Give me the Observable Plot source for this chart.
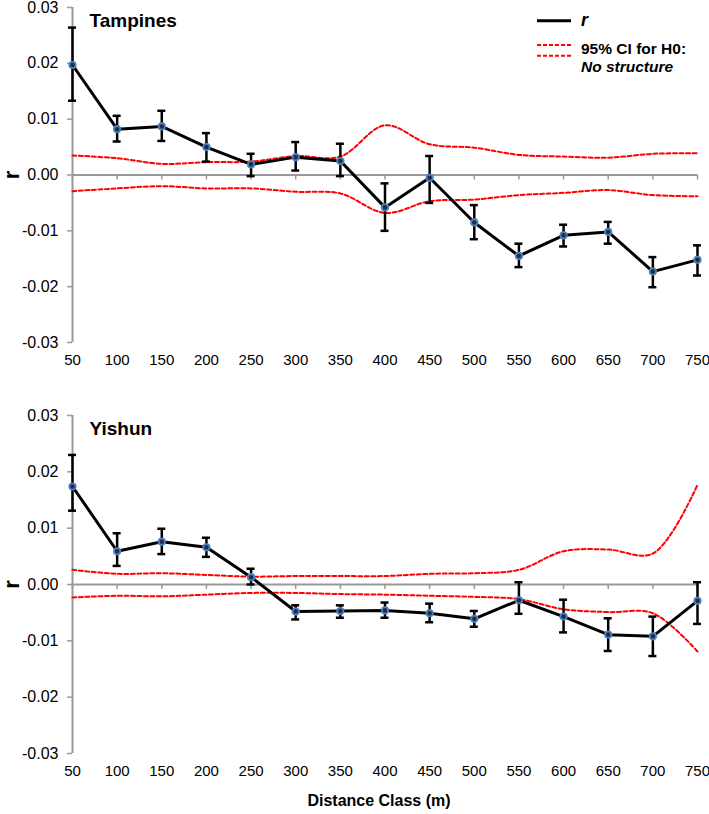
<!DOCTYPE html>
<html>
<head>
<meta charset="utf-8">
<script src="https://cdn.jsdelivr.net/npm/d3@7"></script>
<script src="https://cdn.jsdelivr.net/npm/@observablehq/plot@0.6"></script>
<style>
  html, body { margin: 0; padding: 0; background: #fff; }
  body { font-family: "Liberation Sans", Arial, sans-serif; }
  #wrap { position: relative; width: 709px; height: 814px; overflow: hidden; }
  #top, #bottom { position: absolute; left: 0; }
  #top { top: 0; }
  #bottom { top: 408px; }
  .lg { position: absolute; font-weight: bold; color: #000; white-space: nowrap; line-height: 1; }
</style>
</head>
<body>
<div id="wrap">
  <div id="top"></div>
  <div id="bottom"></div>
  <svg id="legsw" style="position:absolute;left:530px;top:10px" width="50" height="60">
    <line x1="7" x2="41" y1="10.7" y2="10.7" stroke="#000" stroke-width="3"/>
    <line x1="7" x2="41" y1="35" y2="35" stroke="#f00" stroke-width="2" stroke-dasharray="4,2"/>
    <line x1="7" x2="41" y1="45.7" y2="45.7" stroke="#f00" stroke-width="2" stroke-dasharray="4,2"/>
  </svg>
  <div class="lg" style="left:581px;top:11px;font-size:18px;font-style:italic">r</div>
  <div class="lg" style="left:581px;top:41px;font-size:15.5px">95% CI for H0:</div>
  <div class="lg" style="left:581px;top:59px;font-size:15.5px;font-style:italic">No structure</div>
</div>
<script>
// ---- data ----
const distance = [50, 100, 150, 200, 250, 300, 350, 400, 450, 500, 550, 600, 650, 700, 750];
const yTicks = [-0.03, -0.02, -0.01, 0, 0.01, 0.02, 0.03];

// Tampines
const tampR    = [0.0197, 0.0082, 0.0087, 0.0050, 0.0019, 0.0032, 0.0025, -0.0058, -0.0005, -0.0085, -0.0145, -0.0108, -0.0102, -0.0173, -0.0152];
const tampHi   = [0.0264, 0.0106, 0.0115, 0.0075, 0.0038, 0.0059, 0.0056, -0.0015, 0.0034, -0.0054, -0.0123, -0.0089, -0.0084, -0.0147, -0.0126];
const tampLo   = [0.0133, 0.0060, 0.0061, 0.0024, -0.0002, 0.0008, -0.0002, -0.0100, -0.0050, -0.0115, -0.0165, -0.0128, -0.0123, -0.0201, -0.0180];
const tampCIup = [0.0035, 0.0030, 0.0020, 0.0023, 0.0024, 0.0034, 0.0033, 0.0089, 0.0055, 0.0049, 0.0036, 0.0033, 0.0031, 0.0038, 0.0039];
const tampCIlo = [-0.0029, -0.0024, -0.0020, -0.0024, -0.0024, -0.0030, -0.0033, -0.0068, -0.0047, -0.0044, -0.0036, -0.0032, -0.0027, -0.0036, -0.0038];

// Yishun
const yisR    = [0.0174, 0.0059, 0.0076, 0.0066, 0.0013, -0.0048, -0.0047, -0.0046, -0.0051, -0.0061, -0.0028, -0.0057, -0.0089, -0.0092, -0.0029];
const yisHi   = [0.0230, 0.0091, 0.0099, 0.0083, 0.0028, -0.0037, -0.0037, -0.0032, -0.0034, -0.0047, 0.0004, -0.0027, -0.0060, -0.0057, 0.0004];
const yisLo   = [0.0131, 0.0033, 0.0054, 0.0049, 0.0000, -0.0062, -0.0059, -0.0059, -0.0067, -0.0075, -0.0052, -0.0085, -0.0118, -0.0127, -0.0070];
const yisCIup = [0.0026, 0.0019, 0.0020, 0.0017, 0.0014, 0.0015, 0.0015, 0.0015, 0.0019, 0.0020, 0.0026, 0.0059, 0.0062, 0.0055, 0.0177];
const yisCIlo = [-0.0023, -0.0020, -0.0021, -0.0018, -0.0015, -0.0015, -0.0017, -0.0018, -0.0020, -0.0022, -0.0026, -0.0044, -0.0049, -0.0051, -0.0119];

const FONT = '"Liberation Sans", Arial, sans-serif';

function panel(name, r, lo, hi, up, dn, height, marginBottom, xTitle) {
  const rows = distance.map((d, i) => ({d, r: r[i], lo: lo[i], hi: hi[i], up: up[i], dn: dn[i]}));
  const marks = [
    Plot.ruleX([distance[0]], {stroke: "#999", strokeWidth: 2}),
    Plot.ruleY([0], {stroke: "#999", strokeWidth: 2}),
    Plot.ruleX(distance, {x: d => d, y1: 0, y2: 0, insetBottom: -5, stroke: "#999", strokeWidth: 1.5}),
    Plot.axisY(yTicks, {anchor: "left", tickSize: 5, tickPadding: 9, stroke: "#999", strokeWidth: 1.5,
      tickFormat: d => d.toFixed(2), fontSize: 16, label: null}),
    Plot.axisX(distance, {anchor: "bottom", tickSize: 0, tickPadding: 12, fontSize: 15, label: null}),
    Plot.line(rows, {x: "d", y: "up", curve: "catmull-rom", stroke: "#ff0000", strokeWidth: 2, strokeDasharray: "4,2.5"}),
    Plot.line(rows, {x: "d", y: "dn", curve: "catmull-rom", stroke: "#ff0000", strokeWidth: 2, strokeDasharray: "4,2.5"}),
    Plot.ruleX(rows, {x: "d", y1: "lo", y2: "hi", stroke: "#000", strokeWidth: 2.5}),
    Plot.ruleY(rows, {y: "hi", x1: "d", x2: "d", insetLeft: -4, insetRight: -4, stroke: "#000", strokeWidth: 2.5}),
    Plot.ruleY(rows, {y: "lo", x1: "d", x2: "d", insetLeft: -4, insetRight: -4, stroke: "#000", strokeWidth: 2.5}),
    Plot.line(rows, {x: "d", y: "r", stroke: "#000", strokeWidth: 3}),
    Plot.dot(rows, {x: "d", y: "r", r: 3.2, stroke: "#4f81bd", strokeWidth: 1.8, fill: "#1c2e4a"}),
    Plot.text([name], {frameAnchor: "top-left", text: d => d, dx: 17, dy: 6, lineAnchor: "top",
      fontSize: 19, fontWeight: "bold", fill: "#000"}),
    Plot.text(["r"], {frameAnchor: "left", text: d => d, rotate: -90, dx: -61, textAnchor: "middle",
      fontSize: 22, fontWeight: "bold", fill: "#000"})
  ];
  if (xTitle) {
    marks.push(Plot.text([xTitle], {frameAnchor: "bottom", text: d => d, dy: 52, dx: -6, textAnchor: "middle",
      fontSize: 16, fontWeight: "bold", fill: "#000"}));
  }
  return Plot.plot({
    width: 709,
    height,
    marginLeft: 72,
    marginRight: 12,
    marginTop: 7,
    marginBottom,
    style: {fontFamily: FONT, fontSize: "16px", color: "#000", background: "#fff", overflow: "visible"},
    x: {domain: [distance[0], distance[distance.length - 1]], axis: null},
    y: {domain: [yTicks[0], yTicks[yTicks.length - 1]], axis: null},
    marks
  });
}

document.getElementById("top").appendChild(
  panel("Tampines", tampR, tampLo, tampHi, tampCIup, tampCIlo, 380, 38, null));
document.getElementById("bottom").appendChild(
  panel("Yishun", yisR, yisLo, yisHi, yisCIup, yisCIlo, 406, 61, "Distance Class (m)"));
</script>
</body>
</html>
